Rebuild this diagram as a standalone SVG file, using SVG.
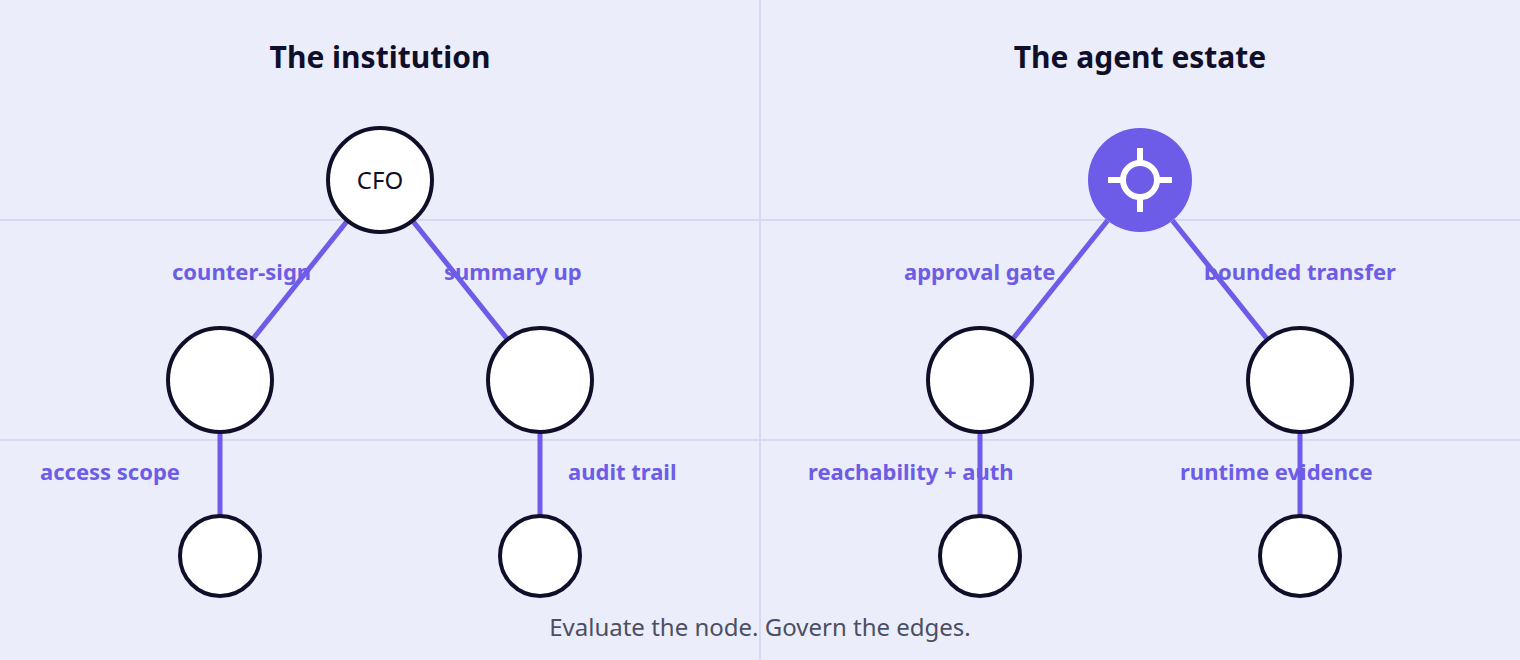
<svg xmlns="http://www.w3.org/2000/svg" width="1520" height="660" viewBox="0 0 1520 660">
<style>
.grid{stroke:#d6d9f0;stroke-width:2}
.node{fill:#fff;stroke:#0f0f2a;stroke-width:4}
.edge{stroke:#6c5ce7;stroke-width:5}
.lbl{font-family:"Noto Sans",sans-serif;font-weight:700;font-size:22px;fill:#6c5ce7}
.title{font-family:"Noto Sans",sans-serif;font-weight:700;font-size:30px;fill:#0f0f2a;text-anchor:middle}
</style>
<rect width="1520" height="660" fill="#ecedfb"/>
<g id="grid">
<line class="grid" x1="760" y1="0" x2="760" y2="660"/>
<line class="grid" x1="0" y1="220" x2="1520" y2="220"/>
<line class="grid" x1="0" y1="440" x2="1520" y2="440"/>
</g>
<text class="title" x="380" y="68">The institution</text>
<text class="title" x="1140" y="68">The agent estate</text>
<g id="labels">
<text class="lbl" x="172" y="280">counter-sign</text>
<text class="lbl" x="444" y="280">summary up</text>
<text class="lbl" x="40" y="480">access scope</text>
<text class="lbl" x="568" y="480">audit trail</text>
<text class="lbl" x="904" y="280">approval gate</text>
<text class="lbl" x="1204" y="280">bounded transfer</text>
<text class="lbl" x="808" y="480">reachability + auth</text>
<text class="lbl" x="1180" y="480">runtime evidence</text>
</g>
<g id="connectors">
<line class="edge" x1="347.5" y1="220.6" x2="252.5" y2="339.4"/>
<line class="edge" x1="412.5" y1="220.6" x2="507.5" y2="339.4"/>
<line class="edge" x1="220" y1="432" x2="220" y2="516"/>
<line class="edge" x1="540" y1="432" x2="540" y2="516"/>
<line class="edge" x1="1107.5" y1="220.6" x2="1012.5" y2="339.4"/>
<line class="edge" x1="1172.5" y1="220.6" x2="1267.5" y2="339.4"/>
<line class="edge" x1="980" y1="432" x2="980" y2="516"/>
<line class="edge" x1="1300" y1="432" x2="1300" y2="516"/>
</g>
<g id="cfo"><circle class="node" cx="380" cy="180" r="52"/><text x="380" y="189" text-anchor="middle" font-family="Noto Sans, sans-serif" font-size="24" fill="#0f0f2a">CFO</text></g>
<g id="l1"><circle class="node" cx="220" cy="380" r="52"/></g>
<g id="l2"><circle class="node" cx="540" cy="380" r="52"/></g>
<g id="l3"><circle class="node" cx="220" cy="556" r="40"/></g>
<g id="l4"><circle class="node" cx="540" cy="556" r="40"/></g>
<g id="agent"><circle cx="1140" cy="180" r="52" fill="#6c5ce7"/>
<g stroke="#fff" stroke-width="6" fill="none"><circle cx="1140" cy="180" r="17"/><line x1="1140" y1="148" x2="1140" y2="163"/><line x1="1140" y1="197" x2="1140" y2="212"/><line x1="1108" y1="180" x2="1123" y2="180"/><line x1="1157" y1="180" x2="1172" y2="180"/></g></g>
<g id="r1"><circle class="node" cx="980" cy="380" r="52"/></g>
<g id="r2"><circle class="node" cx="1300" cy="380" r="52"/></g>
<g id="r3"><circle class="node" cx="980" cy="556" r="40"/></g>
<g id="r4"><circle class="node" cx="1300" cy="556" r="40"/></g>
<text x="760" y="636" text-anchor="middle" font-family="Noto Sans, sans-serif" font-size="24" fill="#4a4f63">Evaluate the node. Govern the edges.</text>
</svg>
